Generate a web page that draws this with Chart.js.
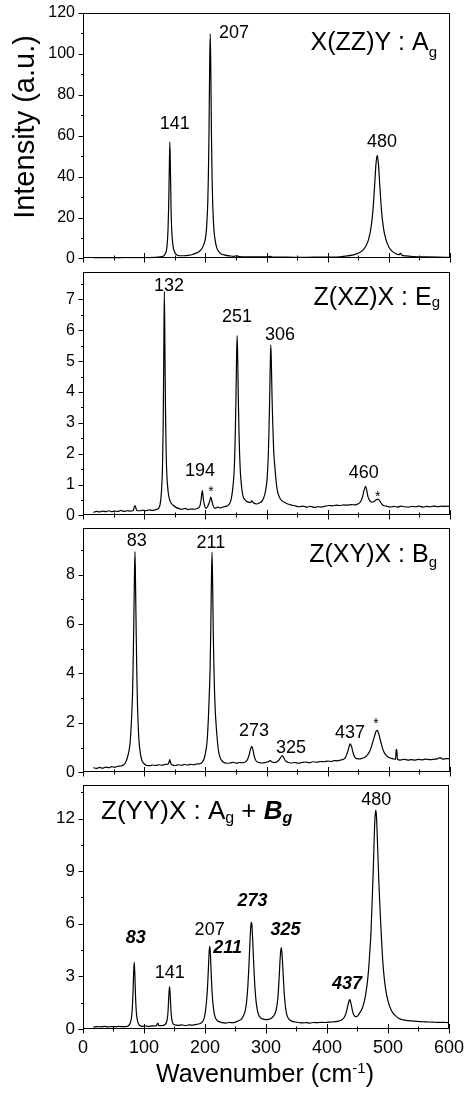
<!DOCTYPE html>
<html>
<head>
<meta charset="utf-8">
<script src="https://cdn.jsdelivr.net/npm/chart.js@4/dist/chart.umd.min.js"></script>
<style>
  html, body { margin: 0; padding: 0; background: #fff; }
  #wrap { position: relative; width: 467px; height: 1093px; overflow: hidden; }
  #wrap canvas { position: absolute; left: 0; }
</style>
</head>
<body>
<div id="wrap"></div>
<script>
// X(ZZ)Y : Ag
const wnZZ = [17,30,45,60,75,90,105,118,126,131,134,137,139,140,141,142,143,144,145,147,150,153,158,165,172,179,185,190,194,197,200,202,204,205,206,207,208,209,210,211,212,214,216,219,222,226,232,240,247,251,255,262,275,290,302,306,310,325,345,365,385,405,420,432,440,447,453,458,463,467,471,474,477,479,481,483,485,488,491,495,500,506,513,517,519,521,528,540,560,580,600];
const intZZ = [0.3,0.25,0.3,0.3,0.35,0.35,0.4,0.5,0.7,1.0,2.0,5.0,14,25,42,57,42,24,14,6.5,3.0,1.8,1.3,1.3,1.5,1.9,2.6,3.4,4.6,6.5,9.4,14.8,27.5,40.5,61.5,91.5,109.8,91,61,40,27,14.3,8.9,4.9,3.3,2.2,1.6,1.2,1.0,1.3,0.9,0.8,0.75,0.7,0.7,1.0,0.65,0.6,0.55,0.55,0.6,0.65,0.8,1.2,1.6,2.2,3.0,4.2,6.3,9.4,15.3,23.5,36.7,46.2,50.4,46.2,36.7,23.5,15.3,9.4,5.6,3.3,2.1,1.8,2.5,1.7,1.2,0.9,0.7,0.6,0.55];

// Z(XZ)X : Eg
const wnXZ = [17,22,27,32,37,42,47,52,57,62,67,72,77,82,85,88,93,98,103,108,113,118,123,126,128,130,131,132,133,134,135,136,137,139,141,144,148,152,157,162,167,172,177,182,187,191,193,195,197,199,201,204,207,209,211,213,216,220,225,230,235,239,242,245,247,248,249,250,251,252,253,254,255,256,257,258,260,262,265,270,274,276,279,284,288,292,295,298,301,303,304,305,306,307,308,309,310,311,312,314,316,318,321,325,330,336,342,348,354,360,366,372,378,384,390,396,402,408,414,420,426,432,438,444,450,454,457,459,461,462,464,466,469,472,476,479,482,485,488,491,496,502,508,514,520,526,532,538,544,550,556,562,568,574,580,586,592,596,600];
const intXZ = [0.10,0.13,0.11,0.14,0.12,0.15,0.12,0.14,0.13,0.16,0.13,0.15,0.14,0.16,0.32,0.16,0.15,0.17,0.15,0.18,0.16,0.18,0.22,0.35,0.7,1.6,2.8,5.0,7.26,5.2,3.2,2.0,1.35,0.8,0.55,0.4,0.32,0.26,0.22,0.2,0.23,0.19,0.21,0.2,0.23,0.3,0.5,0.8,0.5,0.3,0.23,0.3,0.45,0.59,0.45,0.3,0.23,0.27,0.24,0.28,0.3,0.36,0.5,0.9,1.4,1.9,2.7,3.7,5.0,5.83,5.0,3.7,2.7,2.0,1.5,1.2,0.8,0.6,0.5,0.43,0.42,0.47,0.4,0.37,0.4,0.45,0.55,0.75,1.2,2.0,2.7,3.6,4.7,5.53,4.9,3.9,3.1,2.5,2.0,1.5,1.05,0.78,0.6,0.48,0.42,0.36,0.33,0.3,0.28,0.3,0.27,0.29,0.26,0.28,0.27,0.3,0.32,0.31,0.33,0.32,0.34,0.33,0.35,0.34,0.38,0.45,0.6,0.78,0.9,0.94,0.8,0.6,0.48,0.43,0.45,0.5,0.53,0.48,0.38,0.32,0.3,0.27,0.29,0.27,0.3,0.28,0.27,0.29,0.28,0.3,0.27,0.29,0.28,0.3,0.28,0.3,0.29,0.3,0.29];

// Z(XY)X : Bg
const wnXY = [17,22,27,32,37,42,47,52,57,62,66,69,72,75,77,79,81,82,83,84,85,86,87,88,89,91,93,96,100,104,109,114,119,124,129,134,139,141,142,143,146,151,156,161,166,171,176,181,186,191,195,198,201,203,205,207,208,209,210,211,212,213,214,215,216,218,220,222,225,229,235,240,246,251,256,261,266,269,272,274,276,278,280,283,288,293,298,303,306,309,314,318,321,323,326,328,331,335,340,346,352,358,364,370,376,382,388,394,400,406,411,416,421,426,429,432,434,436,437,439,441,443,446,450,455,460,464,468,471,474,477,479,481,483,485,487,490,493,497,502,507,511,512,513,514,519,525,531,537,543,549,555,561,567,573,579,584,588,594,600];
const intXY = [0.19,0.16,0.2,0.17,0.21,0.19,0.23,0.21,0.25,0.26,0.3,0.38,0.55,0.85,1.2,2.0,3.2,4.4,6.0,7.8,8.93,7.4,5.6,4.0,2.8,1.5,0.9,0.5,0.35,0.28,0.27,0.3,0.28,0.31,0.29,0.32,0.33,0.45,0.52,0.4,0.3,0.28,0.31,0.29,0.32,0.3,0.33,0.31,0.34,0.35,0.42,0.55,0.9,1.3,2.2,3.5,4.4,6.0,7.8,8.9,7.5,5.6,4.3,3.3,2.6,1.8,1.2,0.8,0.55,0.42,0.37,0.38,0.41,0.37,0.4,0.39,0.43,0.52,0.75,0.95,1.05,0.9,0.65,0.46,0.4,0.38,0.4,0.43,0.48,0.42,0.4,0.45,0.52,0.6,0.68,0.6,0.47,0.41,0.38,0.4,0.37,0.4,0.42,0.39,0.43,0.41,0.44,0.43,0.46,0.44,0.48,0.47,0.5,0.53,0.6,0.78,0.95,1.12,1.15,1.05,0.85,0.68,0.57,0.55,0.56,0.6,0.68,0.82,1.0,1.25,1.5,1.65,1.7,1.6,1.42,1.22,0.95,0.78,0.66,0.58,0.55,0.53,0.92,0.92,0.53,0.5,0.53,0.5,0.52,0.5,0.53,0.51,0.54,0.52,0.53,0.55,0.6,0.54,0.56,0.55];

// Z(YY)X : Ag + Bg
const wnYY = [17,23,29,35,41,47,53,59,65,71,75,78,80,81,82,83,84,85,86,87,88,90,93,97,102,108,114,120,122,123,124,129,134,137,139,140,141,142,143,144,145,147,150,156,162,168,174,180,186,191,195,198,200,202,204,205,206,207,208,209,210,211,212,214,216,219,223,228,234,240,246,251,256,260,263,266,268,270,272,273,274,275,276,277,278,279,280,282,284,286,288,291,295,300,304,308,312,315,317,319,320,322,323,324,325,326,327,328,330,331,333,335,338,342,348,354,360,366,372,378,384,390,396,402,408,414,419,423,427,430,432,434,436,437,438,440,442,444,447,450,453,456,459,462,464,466,468,470,472,474,476,477,478,479,480,481,482,483,485,487,489,491,493,496,500,505,511,518,525,532,539,546,553,560,567,574,581,588,594,600];
const intYY = [0.11,0.14,0.12,0.15,0.12,0.14,0.13,0.15,0.13,0.14,0.2,0.4,0.8,1.3,2.1,3.2,3.81,3.1,2.0,1.2,0.75,0.38,0.2,0.15,0.17,0.15,0.18,0.17,0.3,0.33,0.2,0.19,0.24,0.4,0.8,1.4,2.1,2.42,1.9,1.2,0.7,0.35,0.24,0.21,0.23,0.2,0.23,0.22,0.26,0.3,0.38,0.55,0.85,1.4,2.3,3.0,3.8,4.5,4.71,4.2,3.3,2.5,1.9,1.15,0.75,0.52,0.42,0.36,0.34,0.37,0.36,0.41,0.48,0.58,0.75,1.05,1.5,2.3,3.6,4.4,5.2,5.8,6.08,5.9,5.2,4.4,3.6,2.3,1.5,1.05,0.8,0.64,0.56,0.54,0.55,0.6,0.72,0.9,1.15,1.6,2.0,3.2,3.9,4.4,4.62,4.4,3.9,3.2,2.0,1.55,1.0,0.72,0.55,0.45,0.4,0.37,0.35,0.36,0.34,0.37,0.36,0.38,0.37,0.39,0.4,0.42,0.45,0.5,0.6,0.78,1.0,1.3,1.58,1.67,1.62,1.35,1.0,0.8,0.7,0.74,0.88,1.05,1.3,1.7,2.1,2.6,3.3,4.3,5.4,7.25,9.2,10.4,11.5,12.2,12.47,12.2,11.4,10.4,8.4,6.8,5.4,4.1,3.2,2.3,1.6,1.1,0.8,0.6,0.52,0.48,0.46,0.44,0.42,0.41,0.4,0.39,0.38,0.38,0.37,0.36];

// peak labels: [text, wavenumber, intensity, style]
const tagsZZ = [['141', 150, 65.7], ['207', 247, 110], ['480', 489, 57]];
const tagsXZ = [['132', 140.6, 7.42], ['251', 251.8, 6.44], ['306', 322, 5.83], ['194', 191.3, 1.43], ['*', 209.3, 0.76], ['460', 459, 1.36], ['*', 482, 0.6]];
const tagsXY = [['83', 88, 9.37], ['211', 209, 9.29], ['273', 279.5, 1.67], ['325', 340, 0.99], ['437', 436.5, 1.59], ['*', 479, 1.94]];
const tagsYY = [['83', 86.6, 5.17, 'bi'], ['141', 142.2, 3.19], ['207', 207.6, 5.62], ['211', 237, 4.6, 'bi'], ['273', 278, 7.3, 'bi'], ['325', 332, 5.62, 'bi'], ['437', 433, 2.57, 'bi'], ['480', 480.6, 13.05]];

const FF = '"Liberation Sans", Arial, Helvetica, sans-serif';

const titleZZ = [['X(ZZ)Y : A', ''], ['g', 'sub']];
const titleXZ = [['Z(XZ)X : E', ''], ['g', 'sub']];
const titleXY = [['Z(XY)X : B', ''], ['g', 'sub']];
const titleYY = [['Z(YY)X : A', ''], ['g', 'sub'], [' + ', ''], ['B', 'bi'], ['g', 'bisub']];

const panels = [
  { x: wnZZ, y: intZZ, tags: tagsZZ, title: titleZZ, top: 0, h: 271, padTop: 13, xh: 11, yMax: 120, yStep: 10, yMajor: 20,
    tAlign: 'right', tx: 13, ty: 37, subDy: 7, tSize: 25, yFont: 16, yTitle: true },
  { x: wnXZ, y: intXZ, tags: tagsXZ, title: titleXZ, top: 259, h: 269, padTop: 10, xh: 11, yMax: 7.9, yStep: 0.5, yMajor: 1,
    tAlign: 'right', tx: 10, ty: 33, subDy: 2, tSize: 25, yFont: 16 },
  { x: wnXY, y: intXY, tags: tagsXY, title: titleXY, top: 515, h: 270, padTop: 10, xh: 11, yMax: 9.9, yStep: 1, yMajor: 2,
    tAlign: 'right', tx: 13, ty: 34.5, subDy: 5, tSize: 25, yFont: 16 },
  { x: wnYY, y: intYY, tags: tagsYY, title: titleYY, top: 772, h: 321, padTop: 10, xh: 64, yMax: 13.9, yStep: 1.5, yMajor: 3,
    tAlign: 'left', tx: 18, ty: 34, subDy: 4, tSize: 26, yFont: 17, xLabels: true, xTitle: true },
];

function fontFor(kind, size) {
  const sub = Math.round(size * 0.6);
  if (kind === 'sub') return sub + 'px ' + FF;
  if (kind === 'bi') return 'italic bold ' + size + 'px ' + FF;
  if (kind === 'bisub') return 'italic bold ' + sub + 'px ' + FF;
  return size + 'px ' + FF;
}

function drawRich(ctx, segs, x, y, align, size, subDy) {
  let w = 0;
  segs.forEach(s => { ctx.font = fontFor(s[1], size); w += ctx.measureText(s[0]).width; });
  let cx = align === 'right' ? x - w : x;
  ctx.textAlign = 'left';
  ctx.textBaseline = 'alphabetic';
  segs.forEach(s => {
    ctx.font = fontFor(s[1], size);
    const dy = s[1].indexOf('sub') >= 0 ? subDy : 0;
    ctx.fillText(s[0], cx, y + dy);
    cx += ctx.measureText(s[0]).width;
  });
}

const decor = {
  id: 'decor',
  afterDraw(chart) {
    const p = chart.options.plugins.decor;
    const { ctx, chartArea: a, scales: { x, y } } = chart;
    const L = Math.round(a.left) + 0.5, R = Math.round(a.right) - 0.5;
    const T = Math.round(a.top) + 0.5, B = Math.round(a.bottom) - 0.5;
    ctx.save();
    ctx.strokeStyle = '#000';
    ctx.lineWidth = 1;
    ctx.strokeRect(L, T, R - L, B - T);
    ctx.beginPath();
    x.ticks.forEach(t => {
      const px = Math.round(x.getPixelForValue(t.value)) + 0.5;
      const major = t.value % 100 === 0;
      ctx.moveTo(px, B - (major ? 4.5 : 2));
      ctx.lineTo(px, B + (major ? 5 : 3));
    });
    y.ticks.forEach(t => {
      const py = Math.round(y.getPixelForValue(t.value)) + 0.5;
      const major = Math.abs(t.value / p.yMajor - Math.round(t.value / p.yMajor)) < 1e-6;
      ctx.moveTo(L - (major ? 5 : 2.5), py);
      ctx.lineTo(L, py);
    });
    ctx.stroke();

    ctx.fillStyle = '#000';
    // peak labels
    ctx.textAlign = 'center';
    ctx.textBaseline = 'middle';
    p.tags.forEach(t => {
      const star = t[0] === '*';
      ctx.font = (t[3] === 'bi' ? 'italic bold ' : '') + (star ? 14 : 18) + 'px ' + FF;
      ctx.fillText(t[0], x.getPixelForValue(t[1]), y.getPixelForValue(t[2]));
    });

    // panel title
    const tx = p.tAlign === 'right' ? a.right - p.tx : a.left + p.tx;
    drawRich(ctx, p.title, tx, a.top + p.ty, p.tAlign, p.tSize, p.subDy);

    if (p.yTitle) {
      ctx.save();
      ctx.translate(34, 127);
      ctx.rotate(-Math.PI / 2);
      ctx.font = '29px ' + FF;
      ctx.textAlign = 'center';
      ctx.textBaseline = 'alphabetic';
      ctx.fillText('Intensity (a.u.)', 0, 0);
      ctx.restore();
    }
    if (p.xTitle) {
      const segs = [['Wavenumber (cm', 25], ['-1', 15], [')', 25]];
      let w = 0;
      segs.forEach(s => { ctx.font = s[1] + 'px ' + FF; w += ctx.measureText(s[0]).width; });
      let cx = (a.left + a.right) / 2 - 1 - w / 2 + 0;
      const base = a.bottom + 53;
      ctx.textAlign = 'left';
      ctx.textBaseline = 'alphabetic';
      segs.forEach(s => {
        ctx.font = s[1] + 'px ' + FF;
        ctx.fillText(s[0], cx, s[1] === 15 ? base - 9 : base);
        cx += ctx.measureText(s[0]).width;
      });
    }
    ctx.restore();
  }
};

const wrap = document.getElementById('wrap');

panels.forEach(p => {
  const c = document.createElement('canvas');
  c.width = 467;
  c.height = p.h;
  c.style.top = p.top + 'px';
  c.style.width = '467px';
  c.style.height = p.h + 'px';
  wrap.appendChild(c);

  new Chart(c, {
    type: 'line',
    data: {
      datasets: [{
        data: p.x.map((v, i) => ({ x: v, y: p.y[i] })),
        borderColor: '#000',
        borderWidth: 1.2,
        pointRadius: 0,
        fill: false,
        cubicInterpolationMode: 'monotone',
      }],
    },
    options: {
      responsive: false,
      animation: false,
      devicePixelRatio: 1,
      layout: { padding: { top: p.padTop, right: 17, bottom: 0, left: 0 } },
      plugins: {
        legend: { display: false },
        tooltip: { enabled: false },
        decor: p,
      },
      scales: {
        x: {
          type: 'linear',
          min: 0,
          max: 600,
          afterFit: s => { s.height = p.xh; },
          border: { display: false },
          grid: { display: false, drawTicks: true, tickLength: 5 },
          ticks: {
            stepSize: 50,
            autoSkip: false,
            maxRotation: 0,
            padding: 3,
            color: '#000',
            font: { family: FF, size: 18 },
            callback: v => (p.xLabels && v % 100 === 0 ? String(v) : ''),
          },
        },
        y: {
          type: 'linear',
          min: 0,
          max: p.yMax,
          afterFit: s => { s.width = 83; },
          border: { display: false },
          grid: { display: false, drawTicks: true, tickLength: 5 },
          ticks: {
            stepSize: p.yStep,
            includeBounds: false,
            autoSkip: false,
            padding: 3,
            color: '#000',
            font: { family: FF, size: p.yFont },
            callback: v => (Math.abs(v / p.yMajor - Math.round(v / p.yMajor)) < 1e-6 ? String(v) : ''),
          },
        },
      },
    },
    plugins: [decor],
  });
});
</script>
</body>
</html>
